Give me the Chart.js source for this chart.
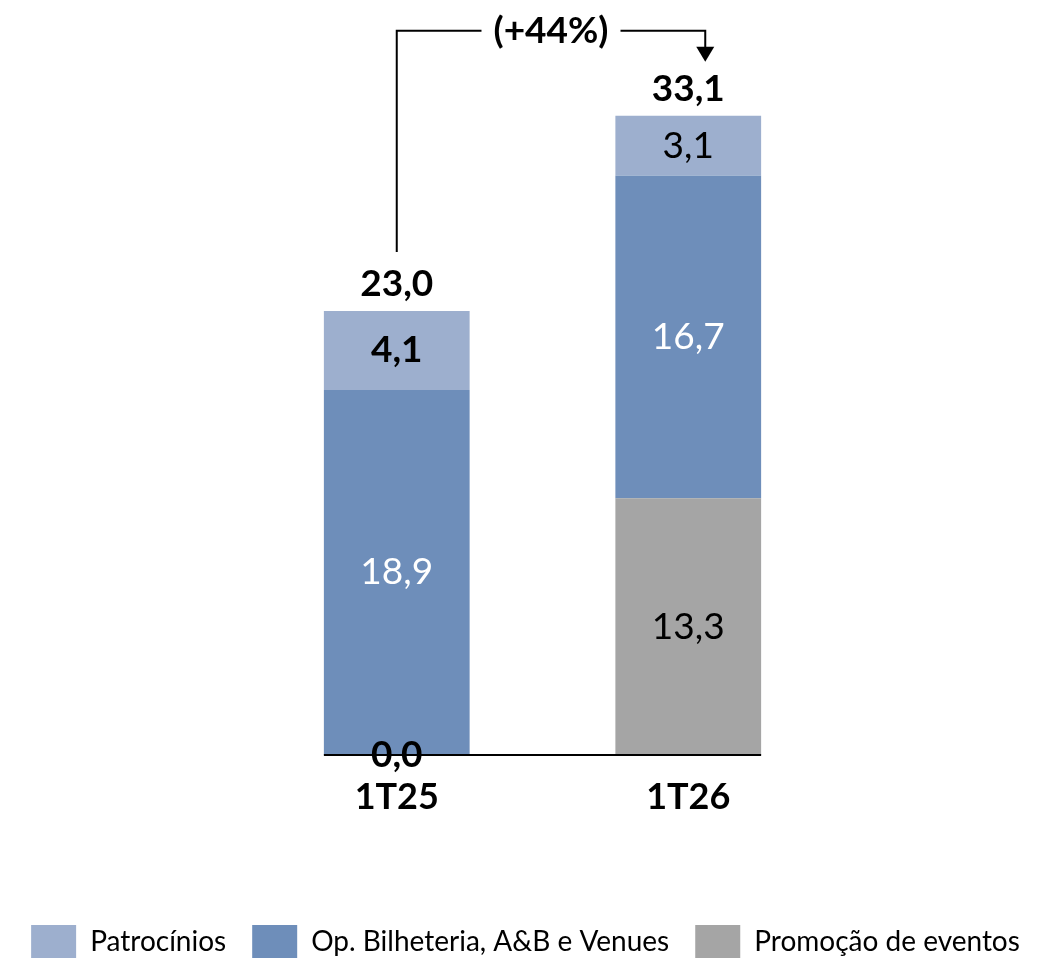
<!DOCTYPE html>
<html><head><meta charset="utf-8">
<script src="https://cdn.jsdelivr.net/npm/chart.js@4.4.1/dist/chart.umd.min.js"></script>
<style>html,body{margin:0;padding:0;background:#fff}#wrap{width:1051px;height:961px;position:relative}</style>
</head><body><div id="wrap"><canvas id="c"></canvas></div>
<script>
const categories = ['1T25', '1T26'];
const promocao = [0.0, 13.3];
const bilheteria = [18.9, 16.7];
const patrocinios = [4.1, 3.1];
const totals = [23.0, 33.1];
const growthLabel = '(+44%)';
const seriesNames = ['Promoção de eventos', 'Op. Bilheteria, A&B e Venues', 'Patrocínios'];

const FONT = 'Lato, "Open Sans", sans-serif';
const fmt = v => v.toFixed(1).replace('.', ',');

// label styles per dataset / category
const labelStyles = [
  [{bold:true,color:'#000'},{bold:false,color:'#000'}],
  [{bold:false,color:'#fff'},{bold:false,color:'#fff'}],
  [{bold:true,color:'#000'},{bold:false,color:'#000'}]
];

const labelPlugin = {
  id: 'labels',
  afterDatasetsDraw(chart) {
    const ctx = chart.ctx;
    const y = chart.scales.y;
    ctx.save();
    // axis line spanning bars
    const m0 = chart.getDatasetMeta(0);
    const first = m0.data[0], last = m0.data[m0.data.length - 1];
    const base = y.getPixelForValue(0);
    ctx.strokeStyle = '#000';
    ctx.lineWidth = 2;
    ctx.beginPath();
    ctx.moveTo(first.x - first.width / 2, base);
    ctx.lineTo(last.x + last.width / 2, base);
    ctx.stroke();

    ctx.textAlign = 'center';
    ctx.textBaseline = 'middle';
    chart.data.datasets.forEach((ds, di) => {
      const meta = chart.getDatasetMeta(di);
      meta.data.forEach((el, i) => {
        const st = labelStyles[di][i];
        ctx.font = (st.bold ? 'bold ' : '') + '37px ' + FONT;
        ctx.fillStyle = st.color;
        const cy = (el.y + el.base) / 2;
        ctx.fillText(fmt(ds.data[i]), el.x, cy);
      });
    });
    // totals
    const topMeta = chart.getDatasetMeta(chart.data.datasets.length - 1);
    ctx.font = 'bold 37px ' + FONT;
    ctx.fillStyle = '#000';
    totals.forEach((t, i) => {
      const el = topMeta.data[i];
      ctx.fillText(fmt(t), el.x, y.getPixelForValue(t) - 27);
    });

    // growth bracket
    const x1 = topMeta.data[0].x;
    const x2 = topMeta.data[1].x + 17;
    const yStart = y.getPixelForValue(totals[0]) - 59;
    const yLine = y.getPixelForValue(totals[1]) - 85;
    const yArrow = y.getPixelForValue(totals[1]) - 54;
    ctx.font = 'bold 37px ' + FONT;
    const tx = (x1 + x2) / 2;
    const tw = ctx.measureText(growthLabel).width;
    ctx.strokeStyle = '#000';
    ctx.lineWidth = 2;
    ctx.beginPath();
    ctx.moveTo(x1, yStart);
    ctx.lineTo(x1, yLine);
    ctx.lineTo(tx - tw / 2 - 12, yLine);
    ctx.moveTo(tx + tw / 2 + 12, yLine);
    ctx.lineTo(x2, yLine);
    ctx.lineTo(x2, yArrow - 13);
    ctx.stroke();
    ctx.beginPath();
    ctx.moveTo(x2 - 9, yArrow - 15);
    ctx.lineTo(x2 + 9, yArrow - 15);
    ctx.lineTo(x2, yArrow);
    ctx.closePath();
    ctx.fill();
    ctx.fillText(growthLabel, tx, yLine);
    ctx.restore();
  }
};

const yMax = 39.1;

new Chart(document.getElementById('c'), {
  type: 'bar',
  data: {
    labels: categories,
    datasets: [
      {label: seriesNames[0], data: promocao, backgroundColor: '#A5A5A5', borderWidth: 0, yAxisID: 'y'},
      {label: seriesNames[1], data: bilheteria, backgroundColor: '#6E8EBA', borderWidth: 0, yAxisID: 'y'},
      {label: seriesNames[2], data: patrocinios, backgroundColor: '#9DAFCE', borderWidth: 0, yAxisID: 'y'}
    ]
  },
  options: {
    responsive: true,
    maintainAspectRatio: false,
    animation: false,
    devicePixelRatio: 1,
    layout: {padding: {top: 0, left: 0, right: 0, bottom: -7}},
    datasets: {bar: {categoryPercentage: 1.0, barPercentage: 0.5}},
    scales: {
      x: {
        stacked: true,
        grid: {display: false, drawTicks: false},
        border: {display: false},
        ticks: {color: '#000', font: {family: FONT, size: 36, weight: 'bold'}, padding: 21},
        afterFit: s => { s.height = 144; }
      },
      y: {
        stacked: true, position: 'left', min: 0, max: yMax,
        grid: {display: false, drawTicks: false}, border: {display: false},
        ticks: {display: false},
        afterFit: s => { s.width = 251; }
      },
      yRight: {
        position: 'right', min: 0, max: yMax,
        grid: {display: false, drawTicks: false}, border: {display: false},
        ticks: {display: false},
        afterFit: s => { s.width = 217; }
      }
    },
    plugins: {
      tooltip: {enabled: false},
      legend: {
        position: 'bottom',
        reverse: true,
        labels: {
          color: '#000',
          font: {family: FONT, size: 28},
          boxWidth: 45,
          boxHeight: 33,
          padding: 26
        }
      }
    }
  },
  plugins: [labelPlugin]
});
</script></body></html>
